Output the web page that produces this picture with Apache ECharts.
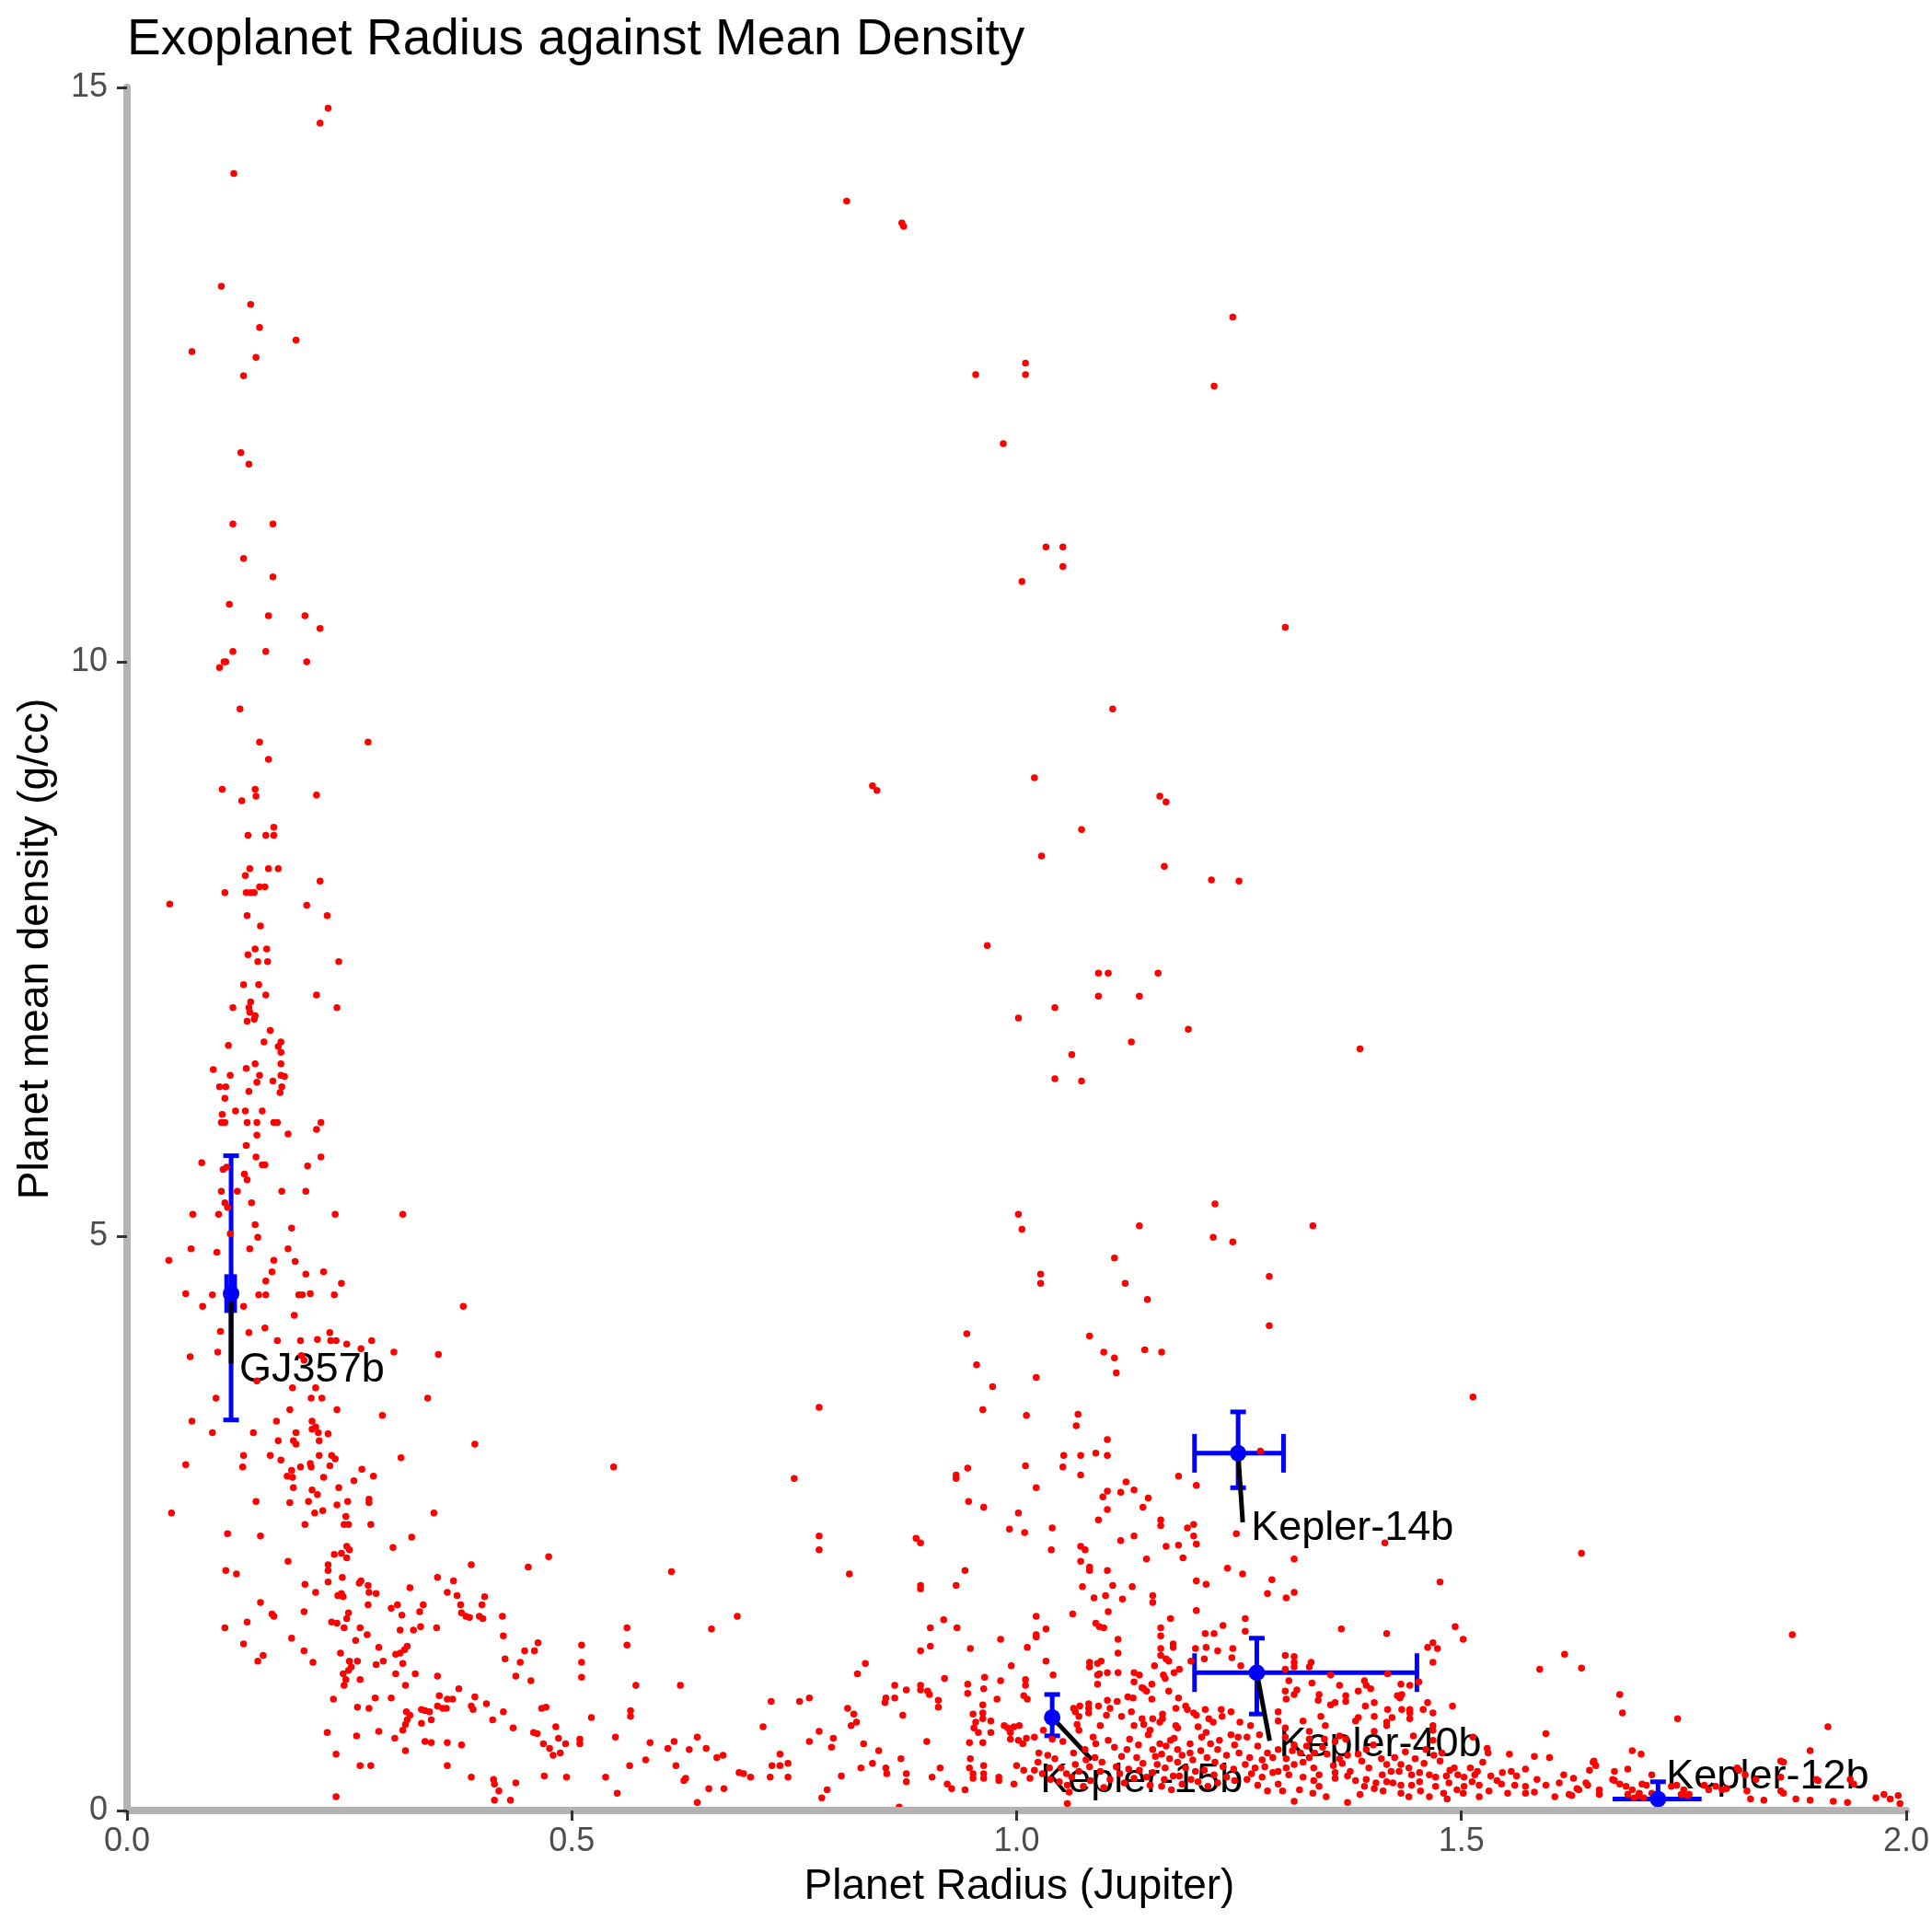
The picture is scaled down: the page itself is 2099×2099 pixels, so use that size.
<!DOCTYPE html>
<html>
<head>
<meta charset="utf-8">
<script src="https://cdn.jsdelivr.net/npm/echarts/dist/echarts.min.js"></script>
<style>html,body{margin:0;padding:0;background:#fff}#c{width:2099px;height:2099px}</style>
</head>
<body>
<div id="c"></div>
<script>
// ---------- DATA: planet [radius (Jupiter), mean density (g/cc)] ----------
const denseSmallPlanets = [[0.226,14.82],[0.217,14.69],[0.120,14.25],[0.106,13.27],[0.139,13.11],[0.149,12.91],[0.073,12.70],[0.190,12.80],[0.145,12.65],[0.131,12.49],[0.128,11.82],[0.137,11.72],[0.119,11.20],[0.164,11.20],[0.131,10.90],[0.164,10.74]];

const rockyPlanets = [[0.115,10.50],[0.159,10.40],[0.200,10.40],[0.217,10.29],[0.119,10.09],[0.156,10.09],[0.109,10.0],[0.111,10.0],[0.104,9.95],[0.202,10.0],[0.127,9.59],[0.149,9.30],[0.271,9.30],[0.159,9.15],[0.107,8.89],[0.144,8.89],[0.145,8.83],[0.129,8.79],[0.213,8.84],[0.165,8.56],[0.136,8.49],[0.156,8.49],[0.165,8.49],[0.138,8.20],[0.133,8.14],[0.159,8.20],[0.170,8.20],[0.217,8.09],[0.110,7.99],[0.134,7.99],[0.139,7.99],[0.143,7.99],[0.149,8.04],[0.155,8.04],[0.048,7.89],[0.202,7.88],[0.135,7.79],[0.225,7.79],[0.150,7.70],[0.144,7.50],[0.157,7.50],[0.136,7.45],[0.147,7.39],[0.158,7.39],[0.238,7.39],[0.131,7.19],[0.148,7.19],[0.156,7.10],[0.213,7.10],[0.119,6.99],[0.137,6.99],[0.139,7.04],[0.138,6.95],[0.144,6.92],[0.143,6.89],[0.135,6.87],[0.236,6.99],[0.161,6.79],[0.114,6.66],[0.154,6.69],[0.170,6.65],[0.173,6.69],[0.173,6.60],[0.173,6.50],[0.097,6.45],[0.134,6.46],[0.144,6.50],[0.116,6.40],[0.149,6.40],[0.173,6.40],[0.177,6.39],[0.164,6.35],[0.146,6.34],[0.104,6.30],[0.111,6.30],[0.174,6.30],[0.137,6.26],[0.172,6.25],[0.110,6.20]];

const smallPlanets = [[0.122,6.09],[0.133,6.09],[0.152,6.09],[0.107,6.06],[0.106,5.99],[0.110,5.99],[0.135,5.99],[0.146,5.99],[0.165,5.99],[0.169,5.99],[0.218,5.99],[0.213,5.93],[0.146,5.88],[0.181,5.89],[0.134,5.79],[0.084,5.64],[0.145,5.69],[0.152,5.62],[0.155,5.62],[0.218,5.69],[0.203,5.61],[0.108,5.58],[0.112,5.60],[0.132,5.54],[0.135,5.49],[0.106,5.39],[0.124,5.39],[0.174,5.39],[0.201,5.39],[0.110,5.29],[0.113,5.25],[0.140,5.29],[0.074,5.19],[0.103,5.19],[0.234,5.19],[0.310,5.19],[0.144,5.10],[0.185,5.07],[0.116,5.02],[0.147,4.99],[0.047,4.79],[0.072,4.89],[0.101,4.86],[0.138,4.89],[0.181,4.89],[0.165,4.79],[0.189,4.78],[0.163,4.69],[0.201,4.67],[0.221,4.69],[0.241,4.59],[0.156,4.61],[0.066,4.50],[0.096,4.49],[0.148,4.49],[0.156,4.49],[0.193,4.49],[0.197,4.49],[0.206,4.50],[0.233,4.49],[0.085,4.39],[0.131,4.39],[0.378,4.39],[0.188,4.31],[0.105,4.17],[0.137,4.16],[0.155,4.20],[0.169,4.09],[0.195,4.09],[0.214,4.10],[0.228,4.16],[0.229,4.09],[0.235,4.09],[0.247,4.06],[0.263,4.02],[0.275,4.09],[0.071,3.95],[0.102,3.99],[0.196,3.96],[0.199,3.92],[0.300,3.99],[0.350,3.97],[0.146,3.74],[0.186,3.68],[0.212,3.68],[0.100,3.59],[0.207,3.59],[0.219,3.59],[0.338,3.59],[0.183,3.49],[0.236,3.49],[0.287,3.44],[0.073,3.39],[0.168,3.39],[0.208,3.39],[0.212,3.34],[0.208,3.32],[0.215,3.29],[0.226,3.28],[0.096,3.29],[0.142,3.29],[0.190,3.29],[0.170,3.22],[0.187,3.22],[0.190,3.19],[0.216,3.22],[0.391,3.19],[0.066,3.01],[0.131,3.09],[0.130,2.99],[0.161,3.09],[0.173,3.05],[0.195,2.99],[0.206,3.02],[0.207,2.99],[0.216,3.09],[0.230,3.09],[0.234,3.06],[0.228,3.00],[0.308,3.07],[0.547,2.99],[0.264,2.97],[0.185,2.96],[0.180,2.91],[0.186,2.90],[0.221,2.90],[0.255,2.87],[0.277,2.91],[0.187,2.81],[0.208,2.79],[0.214,2.75],[0.238,2.81],[0.050,2.59],[0.145,2.69],[0.183,2.68],[0.204,2.69],[0.220,2.61],[0.211,2.59],[0.236,2.66],[0.248,2.69],[0.272,2.71],[0.272,2.68],[0.345,2.59],[0.246,2.56],[0.244,2.49],[0.249,2.49],[0.200,2.49],[0.274,2.49],[0.113,2.41],[0.150,2.39],[0.320,2.38],[0.299,2.29],[0.247,2.30],[0.250,2.27],[0.241,2.24],[0.233,2.23],[0.247,2.20],[0.181,2.17],[0.474,2.21],[0.387,2.14],[0.451,2.12],[0.226,2.14],[0.226,2.09],[0.111,2.09],[0.123,2.06],[0.242,2.03],[0.263,2.00],[0.261,1.98],[0.349,2.03],[0.367,2.00],[0.226,1.99],[0.200,1.97],[0.271,1.96],[0.272,1.90],[0.280,1.89],[0.212,1.90],[0.237,1.87],[0.241,1.89],[0.243,1.86],[0.318,1.94],[0.360,1.90],[0.371,1.87],[0.375,1.79],[0.376,1.72],[0.381,1.69],[0.385,1.68],[0.402,1.86],[0.399,1.79],[0.396,1.69],[0.400,1.67],[0.422,1.69],[0.150,1.81],[0.163,1.71],[0.165,1.69],[0.199,1.73],[0.249,1.72],[0.247,1.67],[0.271,1.79],[0.297,1.76],[0.304,1.79],[0.333,1.79],[0.309,1.70],[0.329,1.73],[0.230,1.64],[0.236,1.63],[0.135,1.64],[0.110,1.59],[0.244,1.59],[0.262,1.59],[0.307,1.57],[0.322,1.57],[0.330,1.60],[0.348,1.59],[0.423,1.52],[0.270,1.53],[0.257,1.48],[0.185,1.50],[0.131,1.45],[0.153,1.35],[0.147,1.30],[0.199,1.39],[0.209,1.29],[0.283,1.42],[0.240,1.37],[0.307,1.37],[0.302,1.36],[0.312,1.40],[0.315,1.43],[0.462,1.46],[0.458,1.39],[0.447,1.39],[0.511,1.44],[0.562,1.59],[0.562,1.44],[0.511,1.29],[0.442,1.29],[0.425,1.32],[0.250,1.30],[0.252,1.25],[0.249,1.22],[0.259,1.30],[0.243,1.19],[0.246,1.14],[0.244,1.09],[0.262,1.14],[0.280,1.27],[0.288,1.30],[0.310,1.28],[0.302,1.19],[0.324,1.19],[0.349,1.17],[0.437,1.17],[0.454,1.13],[0.511,1.16],[0.572,1.09],[0.313,1.09],[0.373,1.06],[0.232,0.97],[0.259,0.90],[0.272,0.89],[0.279,0.98],[0.297,0.98],[0.314,0.86],[0.318,0.83],[0.315,0.79],[0.313,0.75],[0.310,0.70],[0.331,0.88],[0.335,0.87],[0.340,0.86],[0.331,0.76],[0.342,0.79],[0.351,1.00],[0.349,0.91],[0.355,0.89],[0.359,0.89],[0.360,0.97],[0.366,0.97],[0.391,0.99],[0.387,0.91],[0.389,0.88],[0.404,0.93],[0.423,0.86],[0.411,0.79],[0.434,0.72],[0.466,0.89],[0.471,0.90],[0.522,0.81],[0.566,0.87],[0.566,0.82],[0.482,0.73],[0.485,0.63],[0.493,0.58],[0.487,0.50],[0.479,0.48],[0.457,0.68],[0.461,0.67],[0.468,0.58],[0.475,0.54],[0.509,0.62],[0.509,0.58],[0.549,0.64],[0.565,0.39],[0.551,0.15],[0.538,0.29],[0.494,0.29],[0.469,0.30],[0.437,0.24],[0.412,0.27],[0.413,0.23],[0.418,0.17],[0.413,0.09],[0.431,0.09],[0.387,0.29],[0.360,0.39],[0.360,0.59],[0.376,0.57],[0.335,0.60],[0.342,0.59],[0.313,0.52],[0.301,0.63],[0.283,0.69],[0.258,0.65],[0.262,0.39],[0.274,0.39],[0.235,0.49],[0.225,0.68],[0.235,0.12]];

const giantSparse = [[0.809,14.01],[0.871,13.82],[0.873,13.79],[1.243,13.0],[0.954,12.50],[1.010,12.60],[1.010,12.50],[1.222,12.40],[0.985,11.90],[1.302,10.30],[1.033,11.0],[1.052,11.0],[1.052,10.83],[1.006,10.70],[1.108,9.59],[0.843,8.88],[0.838,8.92],[1.020,8.99],[1.161,8.83],[1.168,8.78],[1.073,8.54],[1.028,8.31],[1.166,8.22],[1.219,8.10],[1.250,8.09],[0.967,7.53],[1.092,7.29],[1.103,7.29],[1.159,7.29],[1.092,7.09],[1.138,7.09],[1.043,6.99],[1.002,6.90],[1.193,6.80],[1.386,6.63],[1.129,6.69],[1.062,6.58],[1.043,6.37],[1.073,6.35],[1.002,5.19],[1.006,5.06],[1.223,5.28],[1.138,5.09],[1.221,4.99],[1.243,4.95],[1.333,5.09],[1.110,4.81],[1.027,4.67],[1.027,4.59],[1.122,4.59],[1.147,4.45],[1.284,4.65],[1.284,4.22],[0.944,4.15],[1.082,4.13],[1.098,3.99],[1.110,3.94],[1.144,4.01],[1.163,3.99],[0.955,3.88],[0.973,3.69],[1.022,3.77],[1.112,3.81],[0.962,3.49],[1.011,3.44],[1.069,3.45],[1.067,3.35],[1.513,3.60],[0.778,3.51],[1.274,3.13]];

const giantPlanets = [[0.750,2.89],[0.612,2.08],[0.778,2.39],[0.778,2.27],[0.812,2.06],[0.887,2.37],[0.892,2.33],[0.932,2.92],[0.932,2.89],[0.945,2.98],[1.010,3.00],[1.022,2.81],[1.053,3.09],[1.072,3.09],[1.089,3.11],[1.102,3.09],[1.102,3.23],[1.052,2.99],[1.072,2.92],[1.123,2.86],[1.132,2.79],[1.117,2.77],[1.102,2.78],[1.097,2.73],[1.102,2.62],[1.092,2.53],[1.142,2.64],[1.148,2.72],[1.182,2.91],[1.202,2.83],[0.946,2.69],[0.963,2.64],[1.002,2.59],[0.992,2.45],[1.009,2.42],[1.040,2.46],[1.039,2.27],[1.072,2.30],[1.077,2.27],[1.117,2.35],[1.132,2.39],[1.162,2.53],[1.162,2.48],[1.168,2.30],[1.182,2.31],[1.192,2.46],[1.199,2.49],[1.199,2.39],[1.202,2.32],[1.146,2.19],[1.187,2.20],[1.247,2.41],[1.072,2.17],[1.082,2.12],[1.082,2.09],[1.102,2.09],[1.074,1.95],[1.108,1.96],[1.130,1.95],[1.119,1.84],[1.100,1.87],[1.087,1.85],[1.153,1.87],[1.153,1.81],[1.202,2.00],[1.213,1.97],[1.237,2.11],[1.254,2.06],[1.287,2.01],[1.282,1.89],[0.942,2.09],[0.892,1.96],[0.892,1.93],[0.932,1.96],[1.103,1.73],[1.063,1.71],[1.022,1.69],[1.089,1.63],[1.093,1.60],[1.098,1.59],[1.202,1.74],[1.173,1.67],[1.232,1.61],[1.257,1.67],[1.212,1.54],[1.222,1.54],[1.162,1.59],[1.162,1.52],[1.257,1.56],[0.686,1.69],[0.657,1.58],[0.918,1.66],[0.903,1.59],[0.933,1.59],[1.033,1.58],[1.022,1.53],[1.022,1.51],[0.982,1.49],[0.903,1.43],[0.892,1.39],[0.948,1.41],[1.012,1.42],[1.114,1.49],[1.114,1.37],[1.176,1.45],[1.176,1.42],[1.162,1.41],[1.162,1.35],[1.201,1.41],[1.213,1.42],[1.226,1.39],[1.243,1.41],[1.242,1.33],[1.211,1.32],[1.196,1.30],[1.168,1.32],[1.171,1.30],[1.183,1.23],[1.177,1.20],[1.167,1.15],[1.155,1.26],[1.165,1.18],[1.252,1.26],[0.830,1.28],[0.821,1.19],[0.622,1.09],[0.994,1.26],[1.033,1.30],[1.041,1.18],[1.082,1.29],[1.082,1.25],[1.095,1.30],[1.091,1.28],[1.091,1.18],[1.093,1.19],[1.091,1.10],[1.102,1.20],[1.114,1.20],[1.132,1.20],[1.138,1.18],[1.132,1.12],[1.141,1.07],[1.143,1.06],[1.146,1.04],[1.152,1.10],[1.152,0.97],[1.171,1.04],[1.182,0.98],[1.125,0.99],[1.131,0.98],[1.102,0.96],[1.113,0.95],[1.105,0.89],[1.101,0.83],[1.081,0.93],[1.092,0.91],[1.081,0.89],[1.081,0.85],[1.071,0.91],[1.064,0.89],[1.066,0.86],[1.070,0.82],[1.068,0.75],[1.070,0.70],[1.118,0.82],[1.129,0.86],[1.141,0.80],[1.143,0.75],[1.164,0.84],[1.164,0.80],[1.161,0.77],[1.153,0.80],[1.179,0.89],[1.190,0.91],[1.192,0.88],[1.199,0.85],[1.179,0.74],[1.181,0.72],[1.212,0.88],[1.202,0.83],[1.216,0.80],[1.221,0.77],[1.230,0.88],[1.231,0.82],[1.241,0.86],[1.251,0.77],[1.263,0.74],[1.204,0.73],[1.213,0.68],[1.208,0.64],[1.218,0.58],[1.241,0.66],[1.249,0.64],[1.259,0.64],[1.273,0.66],[1.245,0.57],[1.271,0.56],[1.282,0.50],[1.294,0.53],[1.223,0.42],[1.232,0.38],[1.244,0.36],[1.257,0.40],[1.268,0.37],[1.279,0.38],[1.245,0.26],[1.259,0.27],[1.271,0.22],[1.282,0.17],[1.215,0.21],[1.222,0.31],[1.204,0.25],[1.173,0.61],[1.181,0.53],[1.161,0.58],[1.153,0.53],[1.163,0.49],[1.172,0.45],[1.181,0.42],[1.158,0.40],[1.167,0.37],[1.153,0.33],[1.146,0.29],[1.195,0.50],[1.198,0.44],[1.190,0.37],[1.201,0.34],[1.124,0.53],[1.135,0.46],[1.142,0.41],[1.126,0.36],[1.116,0.32],[1.132,0.28],[1.121,0.24],[1.176,0.30],[1.186,0.23],[1.163,0.21],[1.174,0.18],[1.103,0.61],[1.089,0.58],[1.077,0.53],[1.064,0.50],[1.096,0.42],[1.082,0.38],[1.070,0.34],[1.094,0.34],[1.062,0.29],[1.083,0.26],[1.075,0.21],[1.056,0.32],[1.057,0.22],[1.059,0.16],[1.057,0.06],[1.043,0.45],[1.035,0.48],[1.025,0.50],[1.024,0.42],[1.037,0.37],[1.029,0.32],[1.000,0.39],[1.008,0.35],[0.997,0.23],[0.980,0.29],[0.980,0.26],[0.963,0.39],[0.963,0.32],[0.963,0.28],[0.951,0.32],[0.951,0.28],[0.948,0.45],[0.942,0.18],[0.927,0.19],[0.922,0.23],[0.905,0.29],[0.914,0.37],[0.876,0.32],[0.876,0.25],[0.868,0.03],[0.853,0.37],[0.854,0.32],[0.870,0.45],[0.845,0.52],[0.838,0.41],[0.825,0.37],[0.828,0.58],[0.803,0.30],[0.787,0.18],[0.781,0.11],[0.792,0.55],[0.794,0.63],[0.767,0.60],[0.778,0.69],[0.743,0.41],[0.734,0.39],[0.734,0.49],[0.725,0.39],[0.723,0.29],[0.743,0.29],[0.715,0.73],[0.724,0.95],[0.756,0.95],[0.767,0.98],[0.810,0.89],[0.817,0.84],[0.814,0.74],[0.820,0.77],[0.853,0.98],[0.852,0.94],[0.863,0.98],[0.863,1.09],[0.876,1.05],[0.892,1.09],[0.892,1.05],[0.900,1.04],[0.902,1.01],[0.912,0.96],[0.912,0.90],[0.872,0.83],[0.919,1.15],[0.945,1.10],[0.945,1.02],[0.963,1.06],[0.964,1.16],[0.982,1.13],[0.978,0.97],[1.010,1.14],[1.010,1.09],[1.008,1.00],[1.012,0.97],[0.962,0.92],[0.962,0.85],[0.962,0.80],[0.951,0.84],[0.954,0.77],[0.952,0.72],[0.957,0.68],[0.971,0.78],[0.971,0.68],[0.986,0.74],[0.990,0.72],[0.997,0.73],[1.003,0.74],[0.993,0.68],[0.993,0.62],[1.002,0.61],[1.007,0.58],[1.011,0.63],[0.947,0.59],[0.962,0.59],[0.899,0.60],[0.947,0.37],[0.588,0.59],[0.583,0.44],[0.608,0.54],[0.615,0.60],[0.632,0.53],[0.651,0.54],[0.641,0.64],[0.663,0.46],[0.670,0.48],[0.617,0.39],[0.628,0.28],[0.626,0.26],[0.654,0.19],[0.671,0.19],[0.641,0.07],[0.688,0.33],[0.693,0.32],[0.701,0.29]];

const hotJupiterCore = [[1.110,0.55],[1.118,0.47],[1.127,0.62],[1.137,0.57],[1.148,0.66],[1.156,0.47],[1.168,0.56],[1.177,0.63],[1.186,0.48],[1.195,0.58],[1.207,0.52],[1.214,0.46],[1.226,0.53],[1.236,0.48],[1.228,0.61],[1.250,0.50],[1.262,0.46],[1.276,0.44],[1.288,0.46],[1.264,0.32],[1.276,0.29],[1.288,0.33],[1.236,0.29],[1.226,0.24],[1.211,0.35],[1.196,0.27],[1.183,0.30],[1.166,0.27],[1.150,0.22],[1.138,0.35],[1.112,0.38],[1.105,0.27],[1.098,0.20],[1.088,0.46],[1.078,0.44],[1.066,0.40],[1.050,0.37],[1.048,0.25],[1.038,0.27],[1.020,0.35],[1.015,0.28],[1.310,0.52],[1.326,0.56],[1.344,0.55],[1.356,0.39],[1.366,0.41],[1.388,0.43],[1.396,0.37],[1.410,0.45],[1.425,0.46],[1.437,0.51],[1.448,0.45],[1.458,0.41],[1.476,0.43],[1.486,0.24],[1.495,0.18],[1.512,0.25],[1.520,0.22],[1.540,0.26],[1.560,0.22],[1.585,0.27],[1.610,0.24],[1.615,0.31],[1.626,0.28],[1.318,0.18],[1.348,0.12],[1.386,0.14],[1.412,0.17],[1.441,0.12],[1.454,0.17],[1.484,0.10],[1.520,0.12],[1.150,0.70],[1.132,0.74],[1.094,0.74],[1.086,0.64],[1.052,0.60],[1.040,0.62],[1.030,0.70],[1.020,0.64]];

const inflatedPlanets = [[1.635,2.24],[1.312,2.19],[1.414,2.33],[1.476,1.99],[1.303,1.85],[1.312,1.90],[1.365,1.58],[1.416,1.54],[1.493,1.60],[1.502,1.49],[1.462,1.42],[1.468,1.46],[1.473,1.41],[1.468,1.29],[1.616,1.36],[1.588,1.23],[1.635,1.24],[1.872,1.53],[1.302,1.35],[1.312,1.34],[1.312,1.29],[1.312,1.25],[1.302,1.23],[1.331,1.29],[1.329,1.25],[1.353,1.18],[1.417,1.19],[1.306,1.13],[1.332,1.11],[1.363,1.09],[1.391,1.13],[1.393,1.09],[1.384,1.04],[1.398,1.06],[1.432,1.10],[1.442,1.09],[1.452,1.12],[1.302,1.04],[1.315,1.05],[1.312,1.01],[1.303,0.97],[1.340,1.01],[1.339,0.96],[1.358,0.94],[1.353,0.92],[1.370,1.00],[1.370,0.95],[1.402,0.94],[1.392,0.91],[1.428,1.00],[1.433,1.01],[1.431,0.98],[1.442,0.88],[1.442,0.85],[1.433,0.88],[1.417,0.88],[1.422,0.81],[1.416,0.77],[1.416,0.74],[1.402,0.82],[1.384,0.81],[1.381,0.78],[1.457,0.88],[1.468,0.85],[1.462,0.94],[1.490,0.91],[1.342,0.82],[1.322,0.78],[1.347,0.74],[1.329,0.69],[1.294,0.86],[1.294,0.78],[1.302,0.72],[1.302,0.64],[1.442,0.80],[1.468,0.74],[1.468,0.70],[1.402,0.69],[1.363,0.65],[1.370,0.62],[1.358,0.60],[1.346,0.62],[1.329,0.62],[1.312,0.57],[1.401,0.57],[1.393,0.53],[1.384,0.49],[1.372,0.48],[1.363,0.45],[1.349,0.49],[1.335,0.50],[1.329,0.46],[1.319,0.50],[1.322,0.42],[1.312,0.40],[1.303,0.45],[1.303,0.37],[1.306,0.31],[1.294,0.34],[1.294,0.23],[1.299,0.17],[1.334,0.37],[1.340,0.31],[1.322,0.29],[1.334,0.26],[1.340,0.21],[1.333,0.15],[1.312,0.08],[1.358,0.33],[1.358,0.28],[1.375,0.34],[1.372,0.30],[1.381,0.26],[1.393,0.27],[1.391,0.21],[1.404,0.24],[1.402,0.19],[1.372,0.07],[1.416,0.40],[1.421,0.34],[1.411,0.31],[1.416,0.25],[1.423,0.24],[1.432,0.40],[1.430,0.34],[1.441,0.37],[1.444,0.31],[1.432,0.22],[1.432,0.15],[1.444,0.22],[1.453,0.33],[1.453,0.25],[1.464,0.31],[1.471,0.29],[1.464,0.12],[1.480,0.15],[1.471,0.21],[1.460,0.53],[1.469,0.48],[1.478,0.50],[1.487,0.35],[1.483,0.30],[1.492,0.37],[1.496,0.31],[1.503,0.29],[1.510,0.37],[1.503,0.21],[1.468,0.61],[1.446,0.65],[1.513,0.64],[1.529,0.54],[1.530,0.50],[1.524,0.42],[1.515,0.31],[1.518,0.34],[1.533,0.30],[1.531,0.17],[1.502,0.15],[1.554,0.49],[1.546,0.33],[1.556,0.34],[1.562,0.30],[1.545,0.23],[1.552,0.15],[1.572,0.36],[1.572,0.21],[1.572,0.15],[1.582,0.47],[1.582,0.16],[1.599,0.46],[1.595,0.22],[1.605,0.12],[1.595,0.67],[1.624,0.13],[1.632,0.18],[1.642,0.22],[1.644,0.35],[1.648,0.42],[1.651,0.39],[1.655,0.18],[1.655,0.14],[1.678,1.01],[1.681,0.85],[1.672,0.34],[1.672,0.26],[1.678,0.23],[1.687,0.36],[1.685,0.21],[1.687,0.14],[1.692,0.52],[1.702,0.49],[1.692,0.18],[1.699,0.13],[1.703,0.23],[1.708,0.22],[1.714,0.31],[1.714,0.15],[1.743,0.80],[1.736,0.21],[1.747,0.14],[1.754,0.13],[1.773,0.22],[1.793,0.18],[1.812,0.35],[1.821,0.17],[1.840,0.09],[1.862,0.42],[1.862,0.15],[1.892,0.52],[1.892,0.09],[1.901,0.26],[1.912,0.73],[1.934,0.07],[1.941,0.23],[1.982,0.10],[1.991,0.13],[1.993,0.06]];

const largestPlanets = [[1.621,0.14],[1.630,0.19],[1.640,0.24],[1.649,0.43],[1.670,0.27],[1.700,0.15],[1.705,0.11],[1.694,0.11],[1.742,0.22],[1.750,0.18],[1.756,0.14],[1.810,0.37],[1.819,0.31],[1.831,0.27],[1.859,0.43],[1.859,0.29],[1.859,0.17],[1.899,0.27],[1.937,0.27],[1.778,0.18],[1.786,0.21],[1.798,0.19],[1.825,0.10],[1.876,0.10],[1.918,0.08],[1.966,0.11],[1.975,0.14]];

// highlighted planets with measurement uncertainties
const hlNames      = ['GJ357b', 'Kepler-14b', 'Kepler-40b', 'Kepler-15b', 'Kepler-12b'];
const hlRadius     = [0.117, 1.249, 1.270, 1.040, 1.721];
const hlDensity    = [4.50, 3.11, 1.20, 0.81, 0.10];
const hlRadiusMin  = [0.112, 1.200, 1.200, null, 1.670];
const hlRadiusMax  = [0.121, 1.300, 1.450, null, 1.770];
const hlDensityMin = [3.40, 2.81, 0.84, 0.65, 0.00];
const hlDensityMax = [5.70, 3.47, 1.50, 1.01, 0.25];

// tick labels
const xTicks = [0, 0.5, 1.0, 1.5, 2.0];
const yTicks = [0, 5, 10, 15];

// ---------- STYLE / LAYOUT ----------
const FONT = "'Liberation Sans', Arial, Helvetica, sans-serif";
const GRID = {left: 138, right: 22, top: 95, bottom: 132};
const labelLayout = {
  'GJ357b':     {seg: [0, 76],  text: [9, 83]},
  'Kepler-14b': {seg: [5, 75],  text: [14, 82]},
  'Kepler-40b': {seg: [14, 74], text: [24, 78]},
  'Kepler-15b': {seg: [43, 46], text: [-13, 69]},
  'Kepler-12b': {seg: null,     text: [9, -24]}
};
const hCapHalf = {'Kepler-12b': 0};
const DEFAULT_HCAP_HALF = 21;
const VCAP_HALF = 8.5;

const allPlanets = [].concat(denseSmallPlanets, rockyPlanets, smallPlanets, giantSparse, giantPlanets, hotJupiterCore, inflatedPlanets, largestPlanets);
const hlData = hlRadius.map((x, i) => [x, hlDensity[i]]);

const chart = echarts.init(document.getElementById('c'), null, {renderer: 'canvas', width: 2099, height: 2099});

const W = 2099, H = 2099;
const plotCx = GRID.left + (W - GRID.left - GRID.right) / 2;
const plotCy = GRID.top + (H - GRID.top - GRID.bottom) / 2;

const option = {
  animation: false,
  backgroundColor: '#ffffff',
  grid: {left: GRID.left, right: GRID.right, top: GRID.top, bottom: GRID.bottom, containLabel: false},
  xAxis: {
    type: 'value', min: xTicks[0], max: xTicks[xTicks.length - 1], interval: 0.5, z: 10,
    axisLine: {show: true, onZero: false, lineStyle: {color: '#B3B3B3', width: 8}},
    axisTick: {show: true, length: 11, lineStyle: {color: '#333333', width: 3}},
    axisLabel: {show: true, formatter: v => v.toFixed(1), color: '#4D4D4D', fontSize: 36, fontFamily: FONT, margin: 16, showMaxLabel: true, showMinLabel: true},
    splitLine: {show: false}
  },
  yAxis: {
    type: 'value', min: yTicks[0], max: yTicks[yTicks.length - 1], interval: 5, z: 10,
    axisLine: {show: true, onZero: false, lineStyle: {color: '#B3B3B3', width: 8}},
    axisTick: {show: true, length: 11, lineStyle: {color: '#333333', width: 3}},
    axisLabel: {show: true, color: '#4D4D4D', fontSize: 36, fontFamily: FONT, margin: 21, showMaxLabel: true, showMinLabel: true},
    splitLine: {show: false}
  },
  graphic: [
    {type: 'text', x: 138, y: 44, z: 100,
     style: {text: 'Exoplanet Radius against Mean Density', font: '55px ' + FONT, fill: '#000000', align: 'left', verticalAlign: 'middle'}},
    {type: 'text', x: plotCx, y: 2050, z: 100,
     style: {text: 'Planet Radius (Jupiter)', font: '46px ' + FONT, fill: '#000000', align: 'center', verticalAlign: 'middle'}},
    {type: 'text', x: 39, y: plotCy, rotation: Math.PI / 2, z: 100,
     style: {text: 'Planet mean density (g/cc)', font: '46px ' + FONT, fill: '#000000', align: 'center', verticalAlign: 'middle'}}
  ],
  series: [
    {
      type: 'scatter', data: allPlanets, symbol: 'circle', symbolSize: 7.5,
      itemStyle: {color: '#FF0000', opacity: 1}, silent: true, large: false
    },
    {
      type: 'custom', data: hlData, silent: true,
      renderItem: function (params, api) {
        const i = params.dataIndex;
        const x = api.value(0), y = api.value(1);
        const st = {stroke: '#0000FF', lineWidth: 5, lineCap: 'butt'};
        const ch = [];
        const line = (a, b) => ch.push({type: 'line', shape: {x1: a[0], y1: a[1], x2: b[0], y2: b[1]}, style: st});
        if (hlDensityMin[i] != null) {
          const a = api.coord([x, hlDensityMin[i]]), b = api.coord([x, hlDensityMax[i]]);
          line(a, b);
          line([a[0] - VCAP_HALF, a[1]], [a[0] + VCAP_HALF, a[1]]);
          line([b[0] - VCAP_HALF, b[1]], [b[0] + VCAP_HALF, b[1]]);
        }
        if (hlRadiusMin[i] != null) {
          const a = api.coord([hlRadiusMin[i], y]), b = api.coord([hlRadiusMax[i], y]);
          line(a, b);
          const hh = (hCapHalf[hlNames[i]] !== undefined) ? hCapHalf[hlNames[i]] : DEFAULT_HCAP_HALF;
          if (hh > 0) {
            line([a[0], a[1] - hh], [a[0], a[1] + hh]);
            line([b[0], b[1] - hh], [b[0], b[1] + hh]);
          }
        }
        return {type: 'group', children: ch};
      }
    },
    {
      type: 'scatter', data: hlData, symbol: 'circle', symbolSize: 18,
      itemStyle: {color: '#0000FF', opacity: 1}, silent: true
    },
    {
      type: 'custom', data: hlData, silent: true,
      renderItem: function (params, api) {
        const i = params.dataIndex;
        const p = api.coord([api.value(0), api.value(1)]);
        const lay = labelLayout[hlNames[i]];
        const ch = [];
        if (lay.seg) {
          ch.push({type: 'line', shape: {x1: p[0], y1: p[1], x2: p[0] + lay.seg[0], y2: p[1] + lay.seg[1]},
                   style: {stroke: '#000000', lineWidth: 5}});
        }
        ch.push({type: 'text', x: p[0] + lay.text[0], y: p[1] + lay.text[1],
                 style: {text: hlNames[i], font: '45px ' + FONT, fill: '#000000', align: 'left', verticalAlign: 'middle'}});
        return {type: 'group', children: ch};
      }
    }
  ]
};
chart.setOption(option);
</script>
</body>
</html>
